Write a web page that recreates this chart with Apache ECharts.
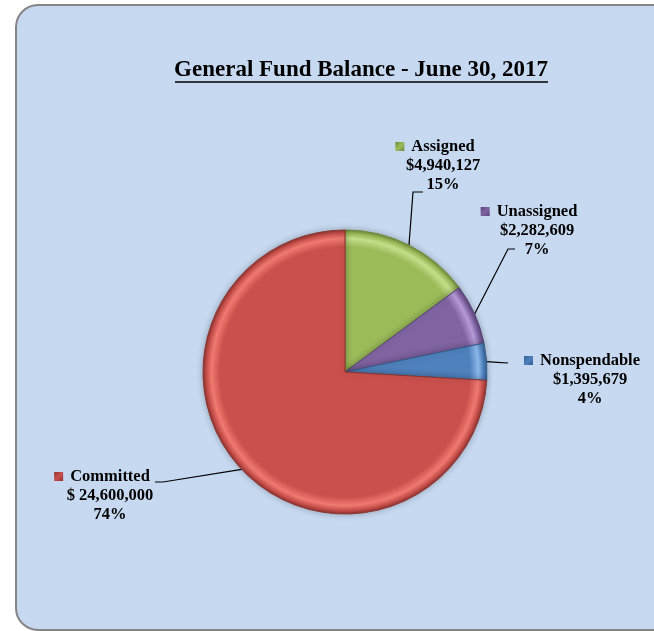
<!DOCTYPE html>
<html>
<head>
<meta charset="utf-8">
<style>
  html, body { margin: 0; padding: 0; background: #ffffff; }
  #chart { width: 654px; height: 631px; }
</style>
<script src="https://cdn.jsdelivr.net/npm/echarts@6/dist/echarts.min.js"></script>
</head>
<body>
<div id="chart"></div>
<script>
// Fund balance components, in draw order (clockwise from 12 o'clock)
const categories = ['Assigned', 'Unassigned', 'Nonspendable', 'Committed'];
const amounts = [4940127, 2282609, 1395679, 24600000];
const currencyPrefix = ['$', '$', '$', '$ '];
const chartTitle = 'General Fund Balance - June 30, 2017';

const baseColors = ['#9bbb59', '#8064a2', '#4f81bd', '#c9504c'];
const rimColors = ['#c4de8a', '#b49ad6', '#8bb8ea', '#ef7a70'];
const edgeColors = ['#6f8a3a', '#5a4478', '#35608f', '#8e3431'];

const CX = 345, CY = 372, R = 142;
const FONT = '"Liberation Serif", "DejaVu Serif", serif';
const LH = 19;

// label box: center x, top y; leader end / elbow offsets relative to that box
// (a null elbow means a straight leader)
const labelSpots = [
  { x: 443, y: 137, end: [-20, 55], elbow: [-30, 55] },
  { x: 537, y: 202, end: [-22, 47], elbow: [-29, 47] },
  { x: 590, y: 351, end: [-82, 12], elbow: null },
  { x: 110, y: 467, end: [45, 15], elbow: [53, 15] }
];

function bevel(i) {
  return {
    type: 'radial', x: CX, y: CY, r: R, global: true,
    colorStops: [
      { offset: 0, color: baseColors[i] },
      { offset: 0.88, color: baseColors[i] },
      { offset: 0.94, color: rimColors[i] },
      { offset: 0.975, color: baseColors[i] },
      { offset: 1, color: edgeColors[i] }
    ]
  };
}

const chart = echarts.init(document.getElementById('chart'), null, { renderer: 'canvas' });

const rich = {
  v: { fontFamily: FONT, fontWeight: 'bold', fontSize: 16.5, color: '#000', lineHeight: LH },
  gap: { width: 7, height: 9, lineHeight: LH },
  pad: { width: 16, height: 9, lineHeight: LH }
};
categories.forEach((c, i) => {
  rich['m' + i] = {
    width: 9, height: 9, lineHeight: LH,
    backgroundColor: {
      type: 'linear', x: 0, y: 0, x2: 1, y2: 1,
      colorStops: [
        { offset: 0, color: edgeColors[i] },
        { offset: 0.5, color: baseColors[i] },
        { offset: 1, color: edgeColors[i] }
      ]
    }
  };
});

chart.setOption({
  backgroundColor: '#ffffff',
  animation: false,
  graphic: [
    {
      type: 'rect', z: -10, silent: true,
      shape: { x: 16, y: 5, width: 720, height: 625, r: 22 },
      style: { fill: '#c6d9f0', stroke: '#858585', lineWidth: 2 }
    },
    {
      type: 'text', z: 5, silent: true,
      style: {
        text: chartTitle, x: 361, y: 70, align: 'center', verticalAlign: 'middle',
        font: 'bold 23px ' + FONT, fill: '#000'
      }
    },
    {
      type: 'line', z: 5, silent: true,
      shape: { x1: 175, y1: 82, x2: 548, y2: 82 },
      style: { stroke: '#000', lineWidth: 1.5 }
    }
  ],
  series: [{
    type: 'pie',
    center: [CX, CY],
    radius: [0, R],
    startAngle: 90,
    clockwise: true,
    avoidLabelOverlap: false,
    data: categories.map((name, i) => ({
      name: name,
      value: amounts[i],
      itemStyle: {
        color: bevel(i),
        borderColor: edgeColors[i],
        borderWidth: 1,
        shadowBlur: 6,
        shadowColor: 'rgba(0,0,0,0.25)'
      }
    })),
    label: {
      show: true,
      position: 'outside',
      color: '#000',
      fontFamily: FONT,
      fontWeight: 'bold',
      fontSize: 16.5,
      lineHeight: LH,
      align: 'center',
      formatter: p => {
        const i = p.dataIndex;
        const money = currencyPrefix[i] + p.value.toLocaleString('en-US');
        const pct = Math.round(p.percent) + '%';
        return '{m' + i + '|}{gap|}{v|' + p.name + '}{pad|}\n{v|' + money + '}\n{v|' + pct + '}';
      },
      rich: rich
    },
    labelLine: {
      show: true,
      length: 12,
      length2: 8,
      lineStyle: { color: '#000', width: 1.2 }
    },
    labelLayout: params => {
      const s = labelSpots[params.dataIndex];
      const out = { x: s.x, y: s.y, align: 'center', verticalAlign: 'top' };
      if (params.labelLinePoints && params.labelLinePoints.length) {
        const start = params.labelLinePoints[0];
        const end = [s.x + s.end[0], s.y + s.end[1]];
        const elbow = s.elbow
          ? [s.x + s.elbow[0], s.y + s.elbow[1]]
          : [(start[0] + end[0]) / 2, (start[1] + end[1]) / 2];
        out.labelLinePoints = [[start[0], start[1]], elbow, end];
      }
      return out;
    }
  }]
});
</script>
</body>
</html>
